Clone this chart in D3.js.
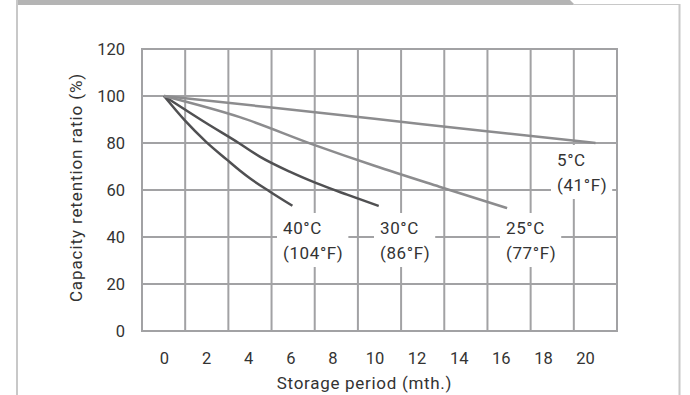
<!DOCTYPE html>
<html>
<head>
<meta charset="utf-8">
<script src="https://cdn.jsdelivr.net/npm/d3@7"></script>
<style>
html,body{margin:0;padding:0;background:#fff;}
svg{display:block;}
text{font-family:Roboto,"DejaVu Sans",sans-serif;fill:#333;}
</style>
</head>
<body>
<svg id="chart" width="690" height="395"></svg>
<script>
// ---- data ----
const xTicks = [0, 2, 4, 6, 8, 10, 12, 14, 16, 18, 20];
const yTicks = [0, 20, 40, 60, 80, 100, 120];
const xTitle = "Storage period (mth.)";
const yTitle = "Capacity retention ratio (%)";

const months40 = [0, 1, 2, 3, 3.6, 4.08, 5, 6.1];
const values40 = [100, 89.5, 80.5, 72.8, 68.3, 65, 59.5, 53.3];

const months30 = [0, 2, 3.55, 4.55, 5.97, 7.24, 8.7, 10.2];
const values30 = [100, 88.5, 80, 74.2, 67.8, 62.9, 58, 53.2];

const months25 = [0, 3.6, 7.16, 10, 13.08, 16.3];
const values25 = [100, 91, 79.1, 70.3, 61.4, 52.3];

const months5 = [0, 5, 10, 15, 20.5];
const values5 = [100, 95.2, 90.3, 85.3, 80];

const seriesNames = ["40°C", "30°C", "25°C", "5°C"];
const seriesSub = ["(104°F)", "(86°F)", "(77°F)", "(41°F)"];

// ---- layout ----
const svg = d3.select("#chart");
const plotL = 142, plotR = 617, plotT = 49, plotB = 331;

const x = d3.scaleLinear().domain([0, 20]).range([164, 585]);
const y = d3.scaleLinear().domain([0, 120]).range([plotB, plotT]);
const gridCols = d3.scaleLinear().domain([0, 11]).range([plotL, plotR]);

// frame
svg.append("path")
  .attr("d", `M16,0 H570 L575,5 H16 Z`)
  .attr("fill", "#b4b4b4");
svg.append("line").attr("x1", 17).attr("x2", 17).attr("y1", 0).attr("y2", 395)
  .attr("stroke", "#c8c8c8").attr("stroke-width", 2);
svg.append("line").attr("x1", 573).attr("x2", 680).attr("y1", 4.5).attr("y2", 4.5)
  .attr("stroke", "#c8c8c8").attr("stroke-width", 1);
svg.append("line").attr("x1", 679.5).attr("x2", 679.5).attr("y1", 4).attr("y2", 395)
  .attr("stroke", "#c8c8c8").attr("stroke-width", 2);

// grid
const grid = svg.append("g");
grid.selectAll("line.v").data(d3.range(12)).join("line")
  .attr("x1", d => gridCols(d)).attr("x2", d => gridCols(d))
  .attr("y1", plotT).attr("y2", plotB)
  .attr("stroke", "#a2a2a4").attr("stroke-width", 2);
grid.selectAll("line.h").data(yTicks).join("line")
  .attr("x1", plotL - 1).attr("x2", plotR + 1)
  .attr("y1", d => y(d)).attr("y2", d => y(d))
  .attr("stroke", "#a2a2a4").attr("stroke-width", 2);

// axes labels
const yAxis = d3.axisLeft(y).tickValues(yTicks).tickSize(0).tickPadding(0);
const gy = svg.append("g").attr("transform", "translate(125,0)").call(yAxis);
gy.select(".domain").remove();
gy.selectAll("text").attr("font-size", 16.5).attr("fill", "#333")
  .style("font-family", "Roboto, sans-serif");

const xAxis = d3.axisBottom(x).tickValues(xTicks).tickSize(0).tickPadding(0);
const gx = svg.append("g").attr("transform", "translate(0,352)").call(xAxis);
gx.select(".domain").remove();
gx.selectAll("text").attr("font-size", 16.5).attr("fill", "#333")
  .style("font-family", "Roboto, sans-serif");

svg.append("text").attr("x", 364.5).attr("y", 389).attr("text-anchor", "middle")
  .attr("font-size", 17).attr("letter-spacing", 0.7).text(xTitle);
svg.append("text").attr("transform", "translate(82,187.5) rotate(-90)")
  .attr("text-anchor", "middle").attr("font-size", 17).attr("letter-spacing", 0.9).text(yTitle);

// lines
const series = [
  {m: months40, v: values40, color: "#505052"},
  {m: months30, v: values30, color: "#505052"},
  {m: months25, v: values25, color: "#8c8c8e"},
  {m: months5, v: values5, color: "#8c8c8e"}
];
const line = d3.line().x(d => x(d[0])).y(d => y(d[1])).curve(d3.curveMonotoneX);
svg.append("g").selectAll("path").data(series).join("path")
  .attr("d", s => line(s.m.map((m, i) => [m, s.v[i]])))
  .attr("fill", "none").attr("stroke", s => s.color)
  .attr("stroke-width", 2.5).attr("stroke-linecap", "butt");

// labels with white boxes
const labelPos = [
  {tx: 283, ty: 228},
  {tx: 380, ty: 228},
  {tx: 506, ty: 228},
  {tx: 557, ty: 160}
];
const lg = svg.append("g");
seriesNames.forEach((name, i) => {
  const p = labelPos[i];
  const g = lg.append("g");
  const rect = g.append("rect").attr("fill", "#fff");
  const t1 = g.append("text").attr("x", p.tx).attr("y", p.ty).attr("dy", "0.35em")
    .attr("font-size", 17).attr("letter-spacing", 0.6).text(name);
  const t2 = g.append("text").attr("x", p.tx).attr("y", p.ty + 25.5).attr("dy", "0.35em")
    .attr("font-size", 17).attr("letter-spacing", 0.6).text(seriesSub[i]);
  const w = Math.max(t1.node().getComputedTextLength(), t2.node().getComputedTextLength());
  rect.attr("x", p.tx - 6).attr("y", p.ty - 15).attr("width", w + 11).attr("height", 54);
});
</script>
</body>
</html>
